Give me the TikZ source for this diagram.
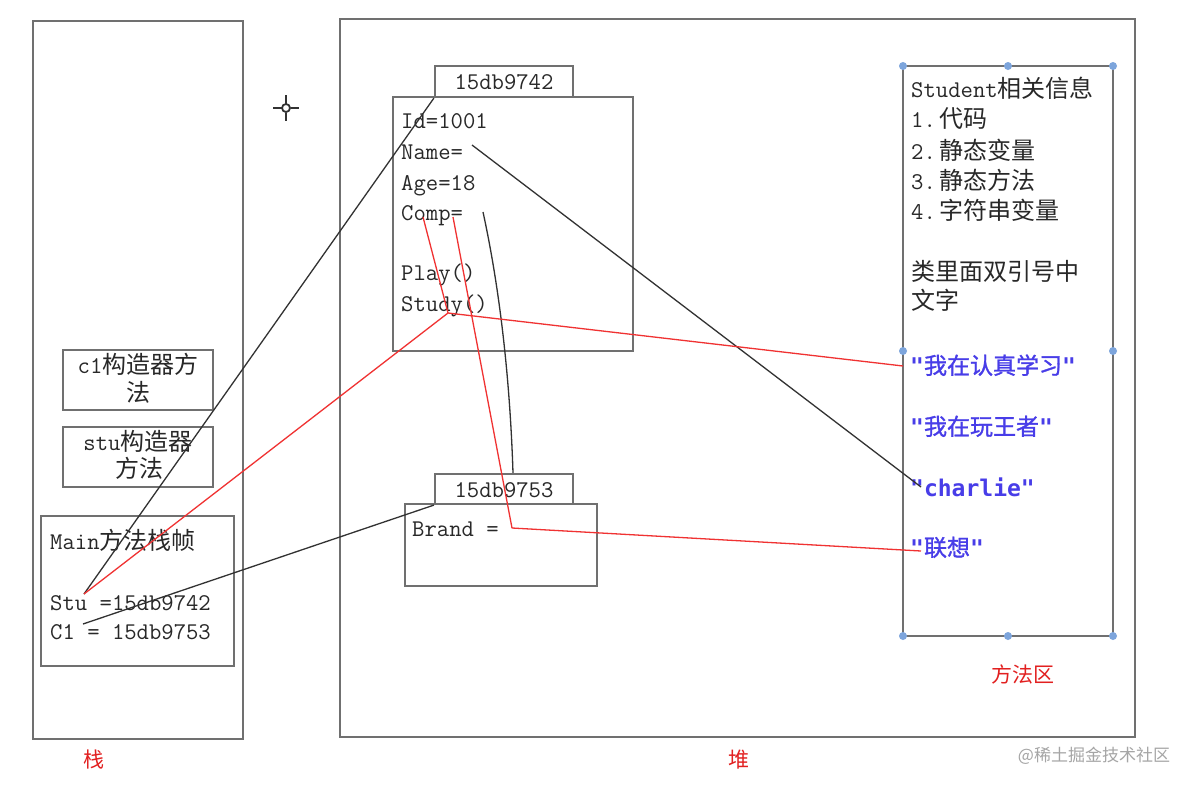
\documentclass[tikz,border=0pt]{standalone}
\usepackage{fontspec}
\newfontfamily\cjk{Noto Sans CJK SC}
\newfontfamily\cjkb{Noto Sans CJK SC}[FakeBold=1.2]
\newfontfamily\monob{DejaVu Sans Mono}
\newcommand\myA[1]{{\ttfamily #1}}
\newcommand\myC[1]{{\cjk #1}}
\newcommand\myQ[1]{{\monob\bfseries "}{\cjkb #1}{\monob\bfseries "}}
\definecolor{boxgray}{RGB}{112,112,112}
\definecolor{txtgray}{RGB}{40,40,40}
\definecolor{lblred}{RGB}{226,32,32}
\definecolor{linered}{RGB}{240,50,50}
\definecolor{lineblk}{RGB}{50,50,50}
\definecolor{strblue}{RGB}{72,61,232}
\definecolor{handle}{RGB}{125,165,220}
\tikzset{
  box/.style={draw=boxgray, line width=2.2pt, inner sep=0pt},
  txt/.style={inner sep=0pt, text=txtgray, font=\fontsize{24}{28}\selectfont},
  btxt/.style={inner sep=0pt, text=strblue, font=\fontsize{23}{28}\selectfont},
  lbl/.style={inner sep=0pt, text=lblred, font=\cjk\fontsize{21}{24}\selectfont},
  blk/.style={draw=lineblk, line width=1.3pt},
  red/.style={draw=linered, line width=1.3pt, line join=round},
  hdl/.style={fill=handle, draw=none, circle, minimum size=8pt, inner sep=0pt},
}
\begin{document}
\begin{tikzpicture}[x=1pt,y=-1pt]
\useasboundingbox (0,0) rectangle (1197,788);
\fill[white] (0,0) rectangle (1197,788);
% frames
\node[box, minimum width=210pt, minimum height=718pt] (stack) at (138,380) {};
\node[box, minimum width=795pt, minimum height=718pt] (heap) at (737.5,378) {};
\node[box, minimum width=150pt, minimum height=60pt] (c1box) at (138,380) {};
\node[box, minimum width=150pt, minimum height=60pt] (stubox) at (138,457) {};
\node[box, minimum width=193pt, minimum height=150pt] (mainbox) at (137.5,591) {};
\node[box, minimum width=138pt, minimum height=31pt] (tab1) at (504,81.5) {};
\node[box, minimum width=240pt, minimum height=254pt] (obj1) at (513,224) {};
\node[box, minimum width=138pt, minimum height=30pt] (tab2) at (504,489) {};
\node[box, minimum width=192pt, minimum height=82pt] (obj2) at (501,545) {};
\node[box, minimum width=210pt, minimum height=570pt] (meth) at (1008,351) {};
% handles
\foreach \hx/\hy [count=\i] in {903/66,1008/66,1113/66,903/351,1113/351,903/636,1008/636,1113/636}
  \node[hdl] (h\i) at (\hx,\hy) {};
% crosshair
\draw[lineblk, line width=2.4pt] (273,108) -- (281.5,108) (290.5,108) -- (299,108)
  (286,95) -- (286,103.5) (286,112.5) -- (286,121);
\node[circle, draw=lineblk, fill=white, line width=1.8pt, minimum size=8pt, inner sep=0pt] (cross) at (286,108) {};
% stack texts
\node[txt, anchor=base] (c1a) at (138,373) {\myA{c1}\myC{构造器方}};
\node[txt, anchor=base] (c1b) at (138,401) {\myC{法}};
\node[txt, anchor=base] (stua) at (138,450) {\myA{stu}\myC{构造器}};
\node[txt, anchor=base] (stub) at (139,477) {\myC{方法}};
\node[txt, anchor=base west] (mainT) at (50,549) {\myA{Main}\myC{方法栈帧}};
\node[txt, anchor=base west] (stuT) at (50,610) {\myA{Stu =15db9742}};
\node[txt, anchor=base west] (c1T) at (50,639) {\myA{C1 = 15db9753}};
% heap texts
\node[txt, anchor=base] (tab1T) at (504,89) {\myA{15db9742}};
\node[txt, anchor=base west] (idT) at (401,128) {\myA{Id=1001}};
\node[txt, anchor=base west] (nameT) at (401,159) {\myA{Name=}};
\node[txt, anchor=base west] (ageT) at (401,190) {\myA{Age=18}};
\node[txt, anchor=base west] (compT) at (401,220) {\myA{Comp=}};
\node[txt, anchor=base west] (playT) at (401,280) {\myA{Play()}};
\node[txt, anchor=base west] (studyT) at (401,311) {\myA{Study()}};
\node[txt, anchor=base] (tab2T) at (504,497) {\myA{15db9753}};
\node[txt, anchor=base west] (brandT) at (412,536) {\myA{Brand =}};
% method area texts
\node[txt, anchor=base west] (m0) at (911,97) {\myA{Student}\myC{相关信息}};
\node[txt, anchor=base west] (m1) at (911,127) {\myA{1.}\hspace{4pt}\myC{代码}};
\node[txt, anchor=base west] (m2) at (911,159) {\myA{2.}\hspace{4pt}\myC{静态变量}};
\node[txt, anchor=base west] (m3) at (911,189) {\myA{3.}\hspace{4pt}\myC{静态方法}};
\node[txt, anchor=base west] (m4) at (911,219) {\myA{4.}\hspace{4pt}\myC{字符串变量}};
\node[txt, anchor=base west] (m5) at (911,280) {\myC{类里面双引号中}};
\node[txt, anchor=base west] (m6) at (911,309) {\myC{文字}};
\node[btxt, anchor=base west] (s1T) at (910,374) {\myQ{我在认真学习}};
\node[btxt, anchor=base west] (s2T) at (910,435) {\myQ{我在玩王者}};
\node[btxt, anchor=base west] (s3T) at (910,496) {{\monob\bfseries "charlie"}};
\node[btxt, anchor=base west] (s4T) at (910,556) {\myQ{联想}};
% region labels
\node[lbl] (stackL) at (94,760) {栈};
\node[lbl] (heapL) at (739,760) {堆};
\node[lbl] (methL) at (1023,674) {方法区};
\node[inner sep=0pt, text={rgb,255:red,165;green,165;blue,165}, font=\cjk\fontsize{17}{20}\selectfont] (wm) at (1094,756) {@稀土掘金技术社区};
% connector points
\coordinate (stuP) at (84,594);
\coordinate (c1P) at (83,624);
\coordinate (studyP) at (448,313);
\coordinate (compA) at (423,217);
\coordinate (compB) at (453,217);
\coordinate (compC) at (483,212);
\coordinate (brandP) at (512,528);
\coordinate (nameP) at (472,145);
\coordinate (s1P) at (903,366);
\coordinate (s3P) at (921,487);
\coordinate (s4P) at (921,551);
% connectors
\draw[blk] (stuP) -- (tab1.south west);
\draw[blk] (c1P) -- (tab2.south west);
\draw[blk] (nameP) -- (s3P);
\draw[blk] (compC) .. controls (500,290) and (510,380) .. (tab2.north -| 513,0);
\draw[red] (stuP) -- (studyP) -- (s1P);
\draw[red] (compA) -- (studyP);
\draw[red] (compB) -- (brandP) -- (s4P);
\end{tikzpicture}
\end{document}
